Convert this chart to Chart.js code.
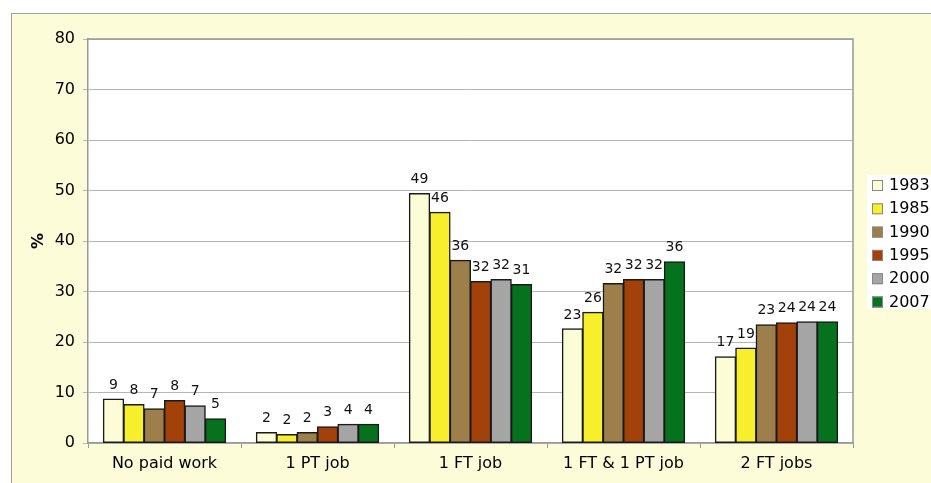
<!DOCTYPE html>
<html>
<head>
<meta charset="utf-8">
<script src="https://cdn.jsdelivr.net/npm/chart.js@4"></script>
<style>
  html, body { margin: 0; padding: 0; background: #fff; overflow: hidden; }
  #frame {
    position: absolute; left: 11px; top: 13px;
    width: 920px; height: 470px;
    background: #fcfcd9;
    border-left: 1px solid #a0a0a0; border-top: 1px solid #a0a0a0;
  }
  #wrap { position: absolute; left: 0; top: 0; width: 919px; height: 469px; }
</style>
</head>
<body>
<div id="frame"><div id="wrap"><canvas id="chart"></canvas></div></div>
<script>
// Categorias y series (porcentajes)
const categories = ['No paid work', '1 PT job', '1 FT job', '1 FT & 1 PT job', '2 FT jobs'];
const years = ['1983', '1985', '1990', '1995', '2000', '2007'];
const v1983 = [8.7, 2.1, 49.4, 22.6, 17.1];
const v1985 = [7.6, 1.7, 45.7, 25.9, 18.8];
const v1990 = [6.8, 2.1, 36.2, 31.6, 23.4];
const v1995 = [8.4, 3.2, 32.0, 32.4, 23.8];
const v2000 = [7.4, 3.7, 32.4, 32.4, 24.0];
const v2007 = [4.8, 3.7, 31.4, 35.9, 24.0];
const colors = ['#fcfcd6', '#f7ee2c', '#9c7f4b', '#a3410a', '#a5a5a5', '#06721d'];

const seriesValues = [v1983, v1985, v1990, v1995, v2000, v2007];

Chart.defaults.font.family = "'DejaVu Sans', Verdana, sans-serif";
Chart.defaults.color = '#000';

// Etiquetas de valor sobre cada barra
const valueLabels = {
  id: 'valueLabels',
  afterDatasetsDraw(chart) {
    const ctx = chart.ctx;
    ctx.save();
    ctx.font = "14px 'DejaVu Sans', Verdana, sans-serif";
    ctx.fillStyle = '#111';
    ctx.textAlign = 'center';
    ctx.textBaseline = 'middle';
    chart.data.datasets.forEach((ds, i) => {
      chart.getDatasetMeta(i).data.forEach((bar, j) => {
        ctx.fillText(Math.round(ds.data[j]).toString(), bar.x, bar.y - 14);
      });
    });
    ctx.restore();
  }
};

// Borde del area de trazado
const plotBorder = {
  id: 'plotBorder',
  beforeDraw(chart) {
    const a = chart.chartArea;
    const ctx = chart.ctx;
    ctx.save();
    ctx.fillStyle = '#fff';
    ctx.fillRect(a.left, a.top, a.right - a.left, a.bottom - a.top);
    ctx.restore();
  },
  afterDraw(chart) {
    const a = chart.chartArea;
    const ctx = chart.ctx;
    ctx.save();
    ctx.strokeStyle = '#999';
    ctx.lineWidth = 1.5;
    ctx.beginPath();
    ctx.moveTo(a.left, a.top);
    ctx.lineTo(a.right, a.top);
    ctx.lineTo(a.right, a.bottom);
    ctx.stroke();
    ctx.restore();
  }
};

// Leyenda con fondo blanco
const boxLegend = {
  id: 'boxLegend',
  afterDraw(chart) {
    const ctx = chart.ctx;
    const x0 = 855, y0 = 161;
    ctx.save();
    ctx.fillStyle = '#fff';
    ctx.fillRect(x0, y0, 70, 134);
    ctx.font = "16px 'DejaVu Sans', Verdana, sans-serif";
    ctx.textBaseline = 'middle';
    ctx.textAlign = 'left';
    chart.data.datasets.forEach((ds, i) => {
      const y = y0 + 5 + i * 23.3;
      ctx.fillStyle = ds.backgroundColor;
      ctx.fillRect(x0 + 5, y, 11, 11);
      ctx.strokeStyle = '#888';
      ctx.lineWidth = 1;
      ctx.strokeRect(x0 + 5.5, y + 0.5, 10, 10);
      ctx.fillStyle = '#000';
      ctx.fillText(ds.label, x0 + 22, y + 6);
    });
    ctx.restore();
  }
};

new Chart(document.getElementById('chart'), {
  type: 'bar',
  data: {
    labels: categories,
    datasets: years.map((y, i) => ({
      label: y,
      data: seriesValues[i],
      backgroundColor: colors[i],
      borderColor: '#1a1a1a',
      borderWidth: 1.5,
      borderSkipped: false,
      inflateAmount: 0.5,
      categoryPercentage: 0.8,
      barPercentage: 1.0
    }))
  },
  options: {
    responsive: true,
    maintainAspectRatio: false,
    animation: false,
    layout: { padding: { left: 0, top: 25, right: 78, bottom: 0 } },
    plugins: {
      legend: { display: false },
      tooltip: { enabled: false }
    },
    scales: {
      x: {
        afterFit(scale) { scale.height = 40; },
        border: { color: '#999', width: 1.5 },
        grid: { offset: true, drawOnChartArea: false, drawTicks: true, tickLength: 5, color: '#999' },
        ticks: { font: { size: 16 }, padding: 6, color: '#000' }
      },
      y: {
        min: 0,
        max: 80,
        afterFit(scale) { scale.width = 76; },
        border: { color: '#999', width: 1.5 },
        grid: { color: '#b5b5b5', tickLength: 5 },
        ticks: { stepSize: 10, font: { size: 16 }, padding: 8, color: '#000' },
        title: {
          display: true,
          text: '%',
          font: { size: 16, weight: 'bold' },
          padding: { top: 17, bottom: 0 }
        }
      }
    }
  },
  plugins: [plotBorder, valueLabels, boxLegend]
});
</script>
</body>
</html>
